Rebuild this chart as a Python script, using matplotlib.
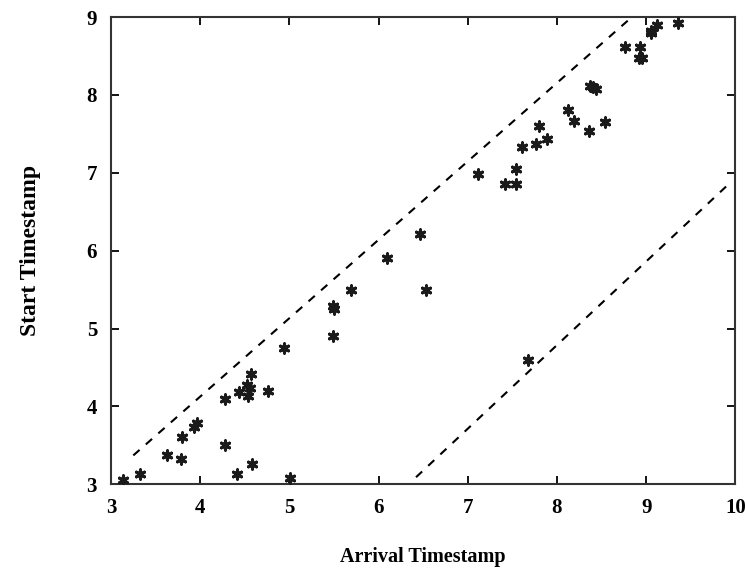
import matplotlib
matplotlib.use("Agg")
import matplotlib.pyplot as plt

# job timestamps
arrival = [3.14, 3.33, 3.63, 3.78, 3.80, 3.93, 3.96, 4.28, 4.28, 4.41,
           4.44, 4.53, 4.56, 4.54, 4.57, 4.58, 4.76, 4.94, 5.01, 5.49,
           5.50, 5.49, 5.69, 6.09, 6.46, 6.53, 7.68, 7.12, 7.42, 7.54,
           7.54, 7.61, 7.76, 7.80, 7.89, 8.12, 8.19, 8.36, 8.54, 8.37,
           8.44, 8.40, 8.76, 8.93, 8.92, 8.95, 9.05, 9.06, 9.12, 9.36]
start = [3.06, 3.13, 3.37, 3.33, 3.61, 3.73, 3.79, 3.51, 4.10, 3.13,
         4.18, 4.28, 4.23, 4.13, 4.41, 3.26, 4.20, 4.75, 3.08, 5.29,
         5.25, 4.90, 5.49, 5.90, 6.21, 5.49, 4.59, 6.99, 6.86, 6.86,
         7.05, 7.33, 7.37, 7.60, 7.44, 7.80, 7.67, 7.54, 7.65, 8.11,
         8.08, 8.10, 8.61, 8.61, 8.47, 8.47, 8.79, 8.82, 8.90, 8.93]

# bounding dashed lines
upper_x = [3.25, 8.84]
upper_y = [3.37, 9.0]
lower_x = [6.42, 9.94]
lower_y = [3.09, 6.87]

plt.rcParams["font.family"] = ["Liberation Serif", "DejaVu Serif"]

fig = plt.figure(figsize=(7.45, 5.69), dpi=100)
ax = fig.add_axes([0.149, 0.149, 0.838, 0.821])

ax.plot(upper_x, upper_y, "k--", lw=1.5, dashes=(4, 4))
ax.plot(lower_x, lower_y, "k--", lw=1.5, dashes=(4, 4))
ax.scatter(arrival, start, marker=(6, 2, 0), s=45, c="#1a1a1a",
           linewidths=2.2, zorder=3)
ax.scatter(arrival, start, marker="o", s=12, c="#1a1a1a", linewidths=0,
           zorder=3)

ax.set_xlim(3, 10)
ax.set_ylim(3, 9)
ax.set_xticks(range(3, 11))
ax.set_yticks(range(3, 10))
ax.tick_params(direction="in", length=6, width=1.3, top=True, right=True,
               labelsize=15, pad=10)
for lab in ax.get_xticklabels() + ax.get_yticklabels():
    lab.set_fontweight("bold")
for sp in ax.spines.values():
    sp.set_linewidth(1.5)
    sp.set_color("#333333")

ax.set_xlabel("Arrival Timestamp", fontsize=14.5, fontweight="bold", labelpad=21)
ax.set_ylabel("Start Timestamp", fontsize=17, fontweight="bold", labelpad=33)

fig.savefig("out.png", dpi=100)
